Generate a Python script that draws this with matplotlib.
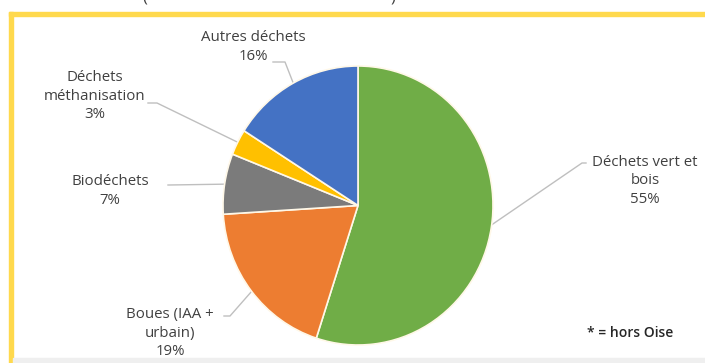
import numpy as np
import matplotlib
matplotlib.use("Agg")
from matplotlib import pyplot as plt
from matplotlib.patches import Rectangle

plt.rcParams['font.family'] = ['Open Sans', 'DejaVu Sans']

# Data
labels = ['Déchets vert et\nbois', 'Boues (IAA +\nurbain)', 'Biodéchets',
          'Déchets\nméthanisation', 'Autres déchets']
values = [55, 19, 7, 3, 16]
colors = ['#70AD47', '#ED7D31', '#7B7B7B', '#FFC000', '#4472C4']

# label layout in pixel coords (x, y of text centre) and leader elbow / end
text_pos = [(645, 181), (170, 333), (110, 191), (95, 96), (253, 47)]
elbow = [(582, 163), (230, 316), (169, 185), (157, 103), (285, 62)]
line_end = [(586, 163), (224, 316), (168, 185), (148, 103), (273, 62)]

W, H = 705, 363
fig = plt.figure(figsize=(W / 100, H / 100), dpi=100)

# overlay axes in pixel coordinates
ov = fig.add_axes([0, 0, 1, 1])
ov.set_xlim(0, W)
ov.set_ylim(H, 0)
ov.axis('off')

# pie axes, slightly stretched vertically like the source image
left, right, top, bottom = 223, 493, 66, 345
pa = fig.add_axes([left / W, (H - bottom) / H, (right - left) / W, (bottom - top) / H])
wedges, _ = pa.pie(values, colors=colors, startangle=90, counterclock=False,
                   radius=1, wedgeprops=dict(edgecolor='#FFF8E8', linewidth=1.2))
pa.set_aspect('auto')
pa.set_xlim(-1, 1)
pa.set_ylim(-1, 1)
pa.axis('off')

# borders
ov.add_patch(Rectangle((9, 12), W - 9, 4, color='#FFD94D', zorder=0))
ov.add_patch(Rectangle((9, 12), 4, H - 12, color='#FFD94D', zorder=0))
ov.add_patch(Rectangle((13, 358), W - 13, 5, color='#EFEFEF', zorder=0))
ov.text(145, -2, '(', fontsize=12, color='#404040', ha='center', va='center')
ov.text(393, -2, ')', fontsize=12, color='#404040', ha='center', va='center')

# labels and leader lines
to_pix = pa.transData + ov.transData.inverted()
for w, lab, v, tp, el, le in zip(wedges, labels, values, text_pos, elbow, line_end):
    mid = np.deg2rad((w.theta1 + w.theta2) / 2)
    px, py = to_pix.transform((0.98 * np.cos(mid), 0.98 * np.sin(mid)))
    ov.plot([px, el[0], le[0]], [py, el[1], le[1]], color='#BFBFBF', lw=1.0, zorder=3)
    ov.text(tp[0], tp[1], f'{lab}\n{v}%', ha='center', va='center', fontsize=10.8,
            color='#404040', linespacing=1.28, zorder=4)

ov.text(630, 333, '* = hors Oise', ha='center', va='center', fontsize=10,
        color='#262626', fontweight='semibold')

fig.savefig('out.png', dpi=100, facecolor='white')
